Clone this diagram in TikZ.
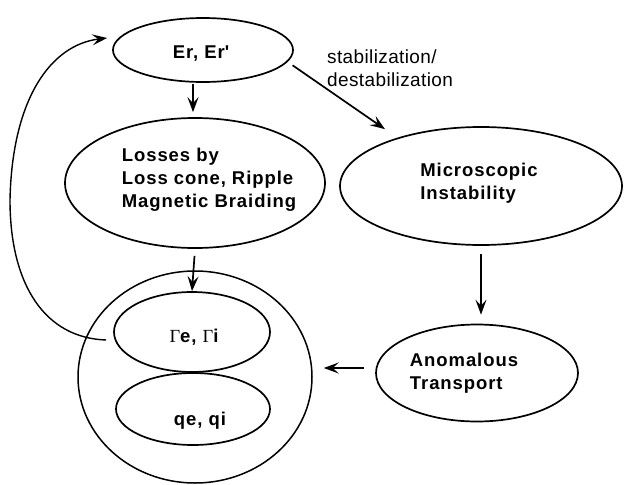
\documentclass[tikz,border=0pt]{standalone}
\usepackage{fontspec}
\setmainfont{Liberation Sans}
\newfontfamily\lblfont{Liberation Sans}[LetterSpace=5]
\newfontfamily\annfont{Liberation Sans}[LetterSpace=2]
\newfontfamily\grfont{Liberation Serif}
\usetikzlibrary{arrows.meta,shapes.geometric}
\begin{document}
\begin{tikzpicture}[x=1pt,y=-1pt,
  oval/.style={draw, ellipse, line width=1.7pt, inner sep=0pt},
  lbl/.style={font=\lblfont\bfseries\fontsize{18.5}{23}\selectfont, align=left, inner sep=0pt},
  ann/.style={font=\annfont\fontsize{19}{23}\selectfont, align=left, inner sep=0pt},
  conn/.style={line width=1.7pt, -{Stealth[length=15pt,width=11pt,inset=6pt]}},
  fb/.style={line width=1.4pt, -{Stealth[length=15pt,width=11pt,inset=6pt]}},
]
\useasboundingbox (0,0) rectangle (625,485);

% ellipses
\node[oval, minimum width=180, minimum height=64] (er) at (203,50) {};
\node[oval, minimum width=260, minimum height=130] (loss) at (195,183) {};
\node[oval, minimum width=282, minimum height=118] (mi) at (481,186) {};
\node[oval, minimum width=202, minimum height=97] (an) at (477,373) {};
\node[oval, line width=1.5pt, minimum width=234, minimum height=212] (big) at (195,377) {};
\node[oval, minimum width=156, minimum height=80] (ga) at (192,332) {};
\node[oval, minimum width=154, minimum height=72] (qe) at (193,409) {};

% texts
\node[lbl, anchor=base] (ertxt) at (201,58) {Er, Er\textquotesingle};
\node[lbl] (losstxt) at (209,180) {Losses by\\Loss cone, Ripple\\Magnetic Braiding};
\node[lbl] (mitxt) at (479,183) {Microscopic\\Instability};
\node[lbl] (antxt) at (464,373) {Anomalous\\Transport};
\node[lbl, anchor=base] (gatxt) at (194,342) {{\grfont\mdseries Γ}e, {\grfont\mdseries Γ}i};
\node[lbl, anchor=base] (qetxt) at (200,425) {qe, qi};
\node[ann, anchor=north west] (stab) at (327,50) {stabilization/\\destabilization};

% connectors
\draw[conn, shorten <=1pt, shorten >=5pt] ([xshift=-10pt]er.south) -- ([xshift=-2pt]loss.north);
\draw[conn, shorten <=6pt, shorten >=15pt] (er.-8) -- (mi.150);
\draw[conn, shorten <=7pt] (loss.south) -- (ga.north);
\draw[conn, shorten <=8pt, shorten >=9pt] (mi.south) -- (mi.south |- an.north);
\draw[conn, shorten <=11pt, shorten >=11pt] ([yshift=5pt]an.west) coordinate (aw) -- (aw -| big.east);
\draw[fb] ([shift={(-7pt,-8pt)}]ga.west) .. controls (45,338) and (10,285) .. (10,200)
  .. controls (12,100) and (50,45) .. ([shift={(-5pt,12pt)}]er.west);
\end{tikzpicture}
\end{document}
